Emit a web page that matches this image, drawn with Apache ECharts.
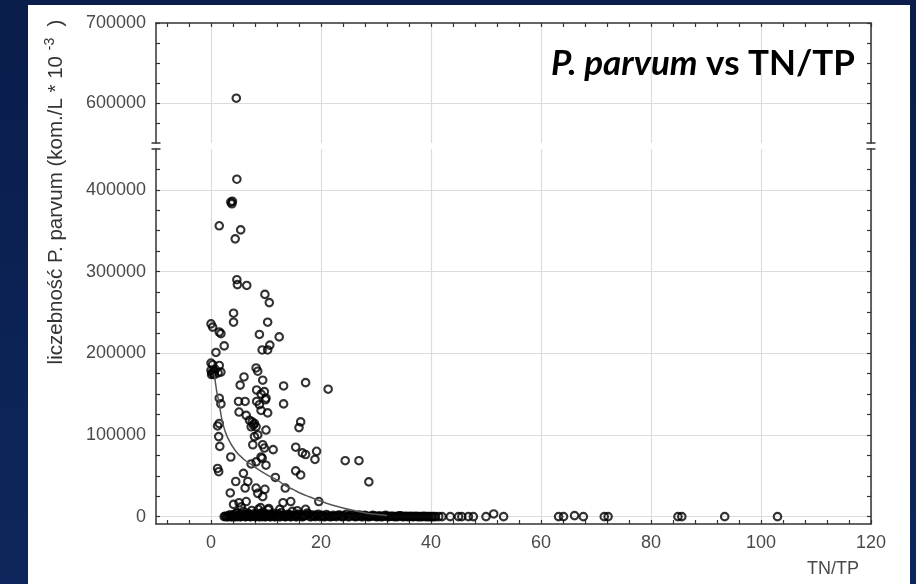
<!DOCTYPE html>
<html lang="pl">
<head>
<meta charset="utf-8">
</head>
<body style="margin: 0">
<div id="container" style="width: 916px; height: 584px"></div>
<script src="https://cdn.jsdelivr.net/npm/echarts@6.0.0/dist/echarts.min.js"></script>
<script>
// P. parvum abundance against TN/TP
var tnTp = [
  4.6,
  4.7, 3.6, 3.8, 3.9, 1.5, 5.4, 4.4, 4.7, 4.8, 6.5, 9.8, 10.6, 4.1, 4.1, 10.3,
  0.0, 0.3, 1.5, 1.8, 8.8, 12.4, 10.7, 9.3, 10.3, 2.4, 0.9, 0.0, 1.5,
  0.0, 0.2, 0.5, 0.8, 1.3, 1.8, 0.3, 0.1, 0.6,
  8.2, 8.5, 6.0, 9.4, 5.3, 13.2, 17.2, 21.3, 8.3, 9.7, 9.1, 10.0, 5.0, 6.2, 8.3, 8.8, 9.9, 13.2,
  10.3, 9.1, 5.1, 6.4, 7.0, 7.5, 7.9, 7.7, 7.3, 8.2, 10.0, 8.5, 7.9,
  1.5, 1.8, 1.5, 1.2, 16.3, 16.0, 1.4, 1.6, 7.6, 9.4, 9.7, 11.3, 15.4, 16.6, 17.2, 19.2, 18.9,
  24.4, 26.9, 3.6, 7.3, 8.2, 9.1, 10.0, 9.3, 1.2, 1.4, 5.9, 11.7, 15.4, 16.3, 28.7,
  4.5, 6.7, 6.2, 3.5, 8.2, 9.8, 8.5, 9.4, 13.5, 5.1, 6.4, 13.1, 14.5, 19.6, 4.1, 17.2, 15.7,
  9.0, 10.5, 5.5, 12.5,
  // high ratios
  50.0, 51.4, 53.2, 63.2, 64.1, 66.1, 67.7, 71.5, 72.2, 84.9, 85.6, 93.4, 103.0
];
var abundance = [
  606000,
  413000, 385000, 383000, 386000, 356000, 351000, 340000, 290000, 284000, 283000, 272000, 262000, 249000, 238000, 238000,
  236000, 232000, 226000, 224000, 223000, 220000, 210000, 204000, 204000, 209000, 201000, 188000, 185000,
  179000, 176000, 178000, 180000, 176000, 177000, 186000, 174000, 174000,
  182000, 178000, 171000, 167000, 161000, 160000, 164000, 156000, 155000, 153000, 150000, 145000, 141000, 141000, 141000, 137000, 143000, 138000,
  127000, 130000, 128000, 124000, 118000, 116000, 114000, 112000, 110000, 110000, 106000, 100000, 98000,
  145000, 138000, 114000, 111000, 116000, 109000, 98000, 86000, 88000, 88000, 84000, 82000, 85000, 78000, 76000, 80000, 70000,
  68500, 68500, 73000, 64500, 67000, 73000, 63000, 71500, 59000, 55000, 53000, 48000, 56000, 51000, 42500,
  43000, 43000, 35000, 29000, 35000, 33500, 28500, 24500, 35000, 17000, 18500, 17000, 18500, 18500, 15000, 9000, 7300,
  11000, 10000, 12000, 9000,
  0, 3300, 0, 0, 0, 1200, 0, 0, 0, 0, 0, 0, 0
];

// the dense band of samples close to zero
var bandTnTp = [
  2.4, 2.8, 3.2, 3.5, 3.8, 4.1, 4.4, 4.7, 5.0, 5.3, 5.6, 5.9, 6.2, 6.5, 6.8, 7.1, 7.4, 7.7,
  8.0, 8.3, 8.6, 8.9, 9.2, 9.5, 9.8, 10.1, 10.4, 10.7, 11.0, 11.3, 11.7, 12.0, 12.4, 12.8,
  13.2, 13.6, 14.0, 14.4, 14.8, 15.2, 15.6, 16.0, 16.5, 17.0, 17.5, 18.0, 18.5, 19.0, 19.5,
  20.0, 20.5, 21.0, 21.6, 22.2, 22.8, 23.4, 24.0, 24.6, 25.2, 25.8, 26.4, 27.0, 27.6, 28.2,
  28.8, 29.4, 30.0, 30.6, 31.2, 31.8, 32.4, 33.0, 33.6, 34.2, 34.8, 35.4, 36.0, 36.6, 37.2,
  37.8, 38.4, 39.0, 39.6, 40.2, 40.8, 41.4, 42.0, 43.5, 45.0, 45.6, 46.8, 47.7,
  2.6, 3.0, 3.35, 3.65, 3.95, 4.25, 4.55, 4.85, 5.15, 5.45, 5.75, 6.05, 6.35, 6.65, 6.95, 7.25, 7.55, 7.85,
  8.15, 8.45, 8.75, 9.05, 9.35, 9.65, 9.95, 10.25, 10.55, 10.85, 11.15, 11.5, 11.85, 12.2, 12.6,
  13.0, 13.4, 13.8, 14.2, 14.6, 15.0, 15.4, 15.8, 16.25, 16.75, 17.25, 17.75, 18.25, 18.75, 19.25, 19.75, 20.25, 20.75,
  21.3, 21.9, 22.5, 23.1, 23.7, 24.3, 24.9, 25.5, 26.1, 26.7, 27.3, 27.9, 28.5, 29.1, 29.7, 30.3, 30.9,
  31.5, 32.1, 32.7, 33.3, 33.9, 34.5, 35.1, 35.7, 36.3, 36.9, 37.5, 38.1, 38.7, 39.3, 39.9, 40.5
];
var bandAbundance = [
  0, 0, 0, 1500, 0, 2500, 0, 5000, 1000, 0, 3000, 6500, 0, 2000, 4000, 0, 7500, 1500,
  0, 3000, 9000, 0, 2000, 5500, 0, 3000, 8500, 0, 1500, 4000, 0, 2000, 0, 5000,
  1000, 0, 3000, 0, 6500, 1500, 0, 3000, 0, 2000, 4500, 0, 2000, 0, 3000,
  1000, 0, 2500, 0, 1500, 0, 2000, 0, 3000, 0, 1500, 0, 2000, 0, 1000,
  0, 1500, 0, 1000, 0, 1500, 0, 500, 0, 1000, 0, 500, 0, 0, 500,
  0, 0, 0, 0, 0, 0, 0, 0, 0, 0, 0, 0, 0,
  500, 0, 2000, 0, 1000, 0, 3500, 0, 2000, 0, 1000, 3000, 0, 500, 2500, 0, 1000, 3500,
  0, 1500, 0, 4000, 0, 2000, 0, 1000, 3000, 0, 2500, 0, 1000, 3500, 0,
  2000, 0, 1000, 2500, 0, 1500, 0, 2500, 1000, 0, 1500, 3000, 0, 1000, 2000, 0, 1500, 0,
  1000, 0, 500, 1500, 0, 1000, 0, 2000, 0, 1000, 0, 1500, 0, 500, 1000, 0, 0,
  1000, 0, 500, 0, 0, 1000, 0, 0, 500, 0, 0, 0, 500, 0, 0, 0
];

// fitted curve
var curveTnTp = [0.6, 1.0, 1.5, 2.1, 3.0, 4.5, 6.0, 7.5, 9.0, 10.5, 12.0, 13.5, 15.0, 16.5, 18.0, 19.5, 21.0, 23.0, 25.0, 27.0, 29.0, 32.0];
var curveAbundance = [175000, 155000, 138000, 115000, 97000, 80000, 70000, 63000, 56000, 50000, 45000, 38000, 33000, 28000, 24000, 20000, 16500, 12500, 9000, 6000, 3500, 1500];

// axis ticks and labels
var xLabels = [0, 20, 40, 60, 80, 100, 120];
var xTicks = [-8, -4, 0, 4, 8, 12, 16, 20, 24, 28, 32, 36, 40, 44, 48, 52, 56, 60, 64, 68, 72, 76, 80,
  84, 88, 92, 96, 100, 104, 108, 112, 116, 120];
var yLowLabels = [0, 100000, 200000, 300000, 400000];
var yLowTicks = [0, 25000, 50000, 75000, 100000, 125000, 150000, 175000, 200000, 225000, 250000,
  275000, 300000, 325000, 350000, 375000, 400000, 425000];
var yHighLabels = [600000, 700000];
var yHighTicks = [575000, 600000, 625000, 650000, 675000, 700000];

var dom = document.getElementById('container');
var myChart = echarts.init(dom, null, { renderer: 'canvas' });

var AXIS_COLOR = '#333';
var GRID_COLOR = '#dcdcdc';
var LABEL_STYLE = { color: '#4a4a4a', fontFamily: 'Liberation Sans', fontSize: 18 };

// visible axis of the frame; labels only where given
function frameAxis(grid, pos, min, max, ticks, labels, breakSymbol) {
  return {
    type: 'value',
    gridIndex: grid,
    position: pos,
    min: min,
    max: max,
    axisLine: {
      show: true,
      onZero: false,
      symbol: breakSymbol || ['none', 'none'],
      symbolSize: [9, 1.5],
      lineStyle: { color: AXIS_COLOR, width: 1.5 }
    },
    axisTick: {
      show: true,
      inside: true,
      length: 4,
      customValues: ticks,
      lineStyle: { color: AXIS_COLOR, width: 1.2 }
    },
    axisLabel: labels ? Object.assign({
      show: true,
      customValues: labels,
      margin: 10,
      formatter: function (v) { return String(v); }
    }, LABEL_STYLE) : { show: false },
    splitLine: { show: false }
  };
}

// invisible axis that only draws the grid lines
function gridAxis(grid, min, max, lines) {
  return {
    type: 'value',
    gridIndex: grid,
    min: min,
    max: max,
    axisLine: { show: false, onZero: false },
    axisTick: { show: false, customValues: lines },
    axisLabel: { show: false },
    splitLine: { show: true, lineStyle: { color: GRID_COLOR, width: 1.2 } }
  };
}

var points = tnTp.map(function (x, i) { return [x, abundance[i]]; })
  .concat(bandTnTp.map(function (x, i) { return [x, bandAbundance[i]]; }));
var curve = curveTnTp.map(function (x, i) { return [x, curveAbundance[i]]; });

var xBottom = frameAxis(1, 'bottom', -10, 120, xTicks, xLabels);
xBottom.name = 'TN/TP';
xBottom.nameLocation = 'end';
xBottom.nameGap = -12;
xBottom.nameMoveOverlap = false;
xBottom.nameTextStyle = Object.assign({ align: 'right', verticalAlign: 'top', padding: [36, 0, 0, 0] }, LABEL_STYLE);

var symbolStyle = {
  color: 'rgba(0,0,0,0)',
  borderColor: '#000',
  borderWidth: 2.1
};

var option = {
  animation: false,
  backgroundColor: new echarts.graphic.LinearGradient(0, 0, 0, 1, [
    { offset: 0, color: '#0a1d4b' },
    { offset: 1, color: '#0d275c' }
  ]),
  title: {
    text: '{i|P. parvum} vs TN/TP',
    right: 56,
    top: 41,
    textStyle: {
      fontFamily: 'Lato',
      fontWeight: 'bold',
      fontSize: 35,
      color: '#000',
      rich: {
        i: { fontFamily: 'Lato', fontWeight: 'bold', fontStyle: 'italic', fontSize: 35, color: '#000' }
      }
    }
  },
  graphic: [
    {
      type: 'rect',
      z: -10,
      silent: true,
      shape: { x: 28, y: 5, width: 882, height: 579 },
      style: { fill: '#fff' }
    },
    {
      type: 'text',
      silent: true,
      x: 56,
      y: 192,
      rotation: Math.PI / 2,
      style: {
        text: '{n|liczebność P. parvum (kom./L * 10 }{s|-3}{n|  )}',
        align: 'center',
        verticalAlign: 'middle',
        rich: {
          n: { fontFamily: 'Liberation Sans', fontSize: 20.5, lineHeight: 26, fill: '#333' },
          s: { fontFamily: 'Liberation Sans', fontSize: 14, lineHeight: 14, verticalAlign: 'top', fill: '#333' }
        }
      }
    }
  ],
  grid: [
    { left: 156, right: 45, top: 23, height: 120, outerBoundsMode: 'none' },
    { left: 156, right: 45, top: 149, height: 375, outerBoundsMode: 'none' }
  ],
  xAxis: [
    frameAxis(0, 'top', -10, 120, xTicks, null),
    gridAxis(0, -10, 120, xLabels),
    xBottom,
    gridAxis(1, -10, 120, xLabels)
  ],
  yAxis: [
    frameAxis(0, 'left', 550000, 700000, yHighTicks, yHighLabels, ['rect', 'none']),
    frameAxis(0, 'right', 550000, 700000, yHighTicks, null, ['rect', 'none']),
    gridAxis(0, 550000, 700000, [600000]),
    frameAxis(1, 'left', -9000, 450000, yLowTicks, yLowLabels, ['none', 'rect']),
    frameAxis(1, 'right', -9000, 450000, yLowTicks, null, ['none', 'rect']),
    gridAxis(1, -9000, 450000, yLowLabels)
  ],
  series: [
    {
      type: 'scatter',
      name: 'upper',
      xAxisIndex: 0,
      yAxisIndex: 0,
      data: points,
      symbol: 'circle',
      symbolSize: 7.5,
      itemStyle: symbolStyle,
      emphasis: { disabled: true }
    },
    {
      type: 'line',
      name: 'fit',
      xAxisIndex: 2,
      yAxisIndex: 3,
      data: curve,
      smooth: 0.4,
      showSymbol: false,
      lineStyle: { color: '#555', width: 1.5 },
      emphasis: { disabled: true }
    },
    {
      type: 'scatter',
      name: 'lower',
      xAxisIndex: 2,
      yAxisIndex: 3,
      data: points,
      symbol: 'circle',
      symbolSize: 7.5,
      itemStyle: symbolStyle,
      emphasis: { disabled: true }
    }
  ]
};

myChart.setOption(option);
window.addEventListener('resize', myChart.resize);
</script>
</body>
</html>
